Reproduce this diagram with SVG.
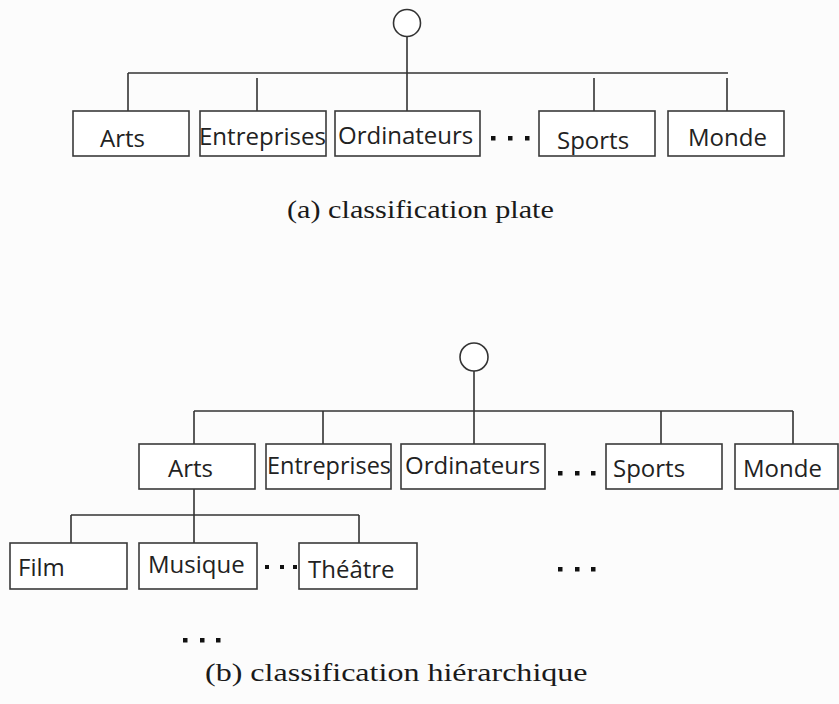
<svg xmlns="http://www.w3.org/2000/svg" width="839" height="704" viewBox="0 0 839 704">
<style>
.box{fill:#ffffff;stroke:#3a3a3a;stroke-width:1.6}
.lbl{font-family:"Open Sans","DejaVu Sans",sans-serif;font-size:24px;fill:#222}
.ln{stroke:#333;stroke-width:1.6;fill:none}
.root{fill:#ffffff;stroke:#333;stroke-width:1.6}
.cap{font-family:"Liberation Serif","Times New Roman",serif;fill:#1a1a1a}
.dot{fill:#111}
</style>
<rect width="839" height="704" fill="#fcfcfc"/>

<g id="connectors">
  <path class="ln" d="M407 37 V111 M128 73 H728 M128 73 V111 M257 78 V111 M594 78 V111 M727 78 V111"/>
  <path class="ln" d="M474 371 V444 M194 411 H793 M194 411 V444 M323 411 V444 M661 411 V444 M793 411 V444"/>
  <path class="ln" d="M194 489 V543 M71 515 H359 M71 515 V543 M359 515 V543"/>
</g>

<g id="a-root"><circle class="root" cx="407" cy="23" r="13.5"/></g>
<g id="a-arts"><rect class="box" x="73" y="111" width="116" height="45"/><text class="lbl" x="100" y="147">Arts</text></g>
<g id="a-entreprises"><rect class="box" x="200" y="111" width="126" height="45"/><text class="lbl" x="199" y="145" textLength="127" lengthAdjust="spacingAndGlyphs">Entreprises</text></g>
<g id="a-ordinateurs"><rect class="box" x="335" y="111" width="145" height="45"/><text class="lbl" x="338" y="144">Ordinateurs</text></g>
<g id="a-dots"><rect class="dot" x="491" y="136" width="4.5" height="4.5"/><rect class="dot" x="508" y="136" width="4.5" height="4.5"/><rect class="dot" x="525" y="136" width="4.5" height="4.5"/></g>
<g id="a-sports"><rect class="box" x="539" y="111" width="116" height="45"/><text class="lbl" x="557" y="149">Sports</text></g>
<g id="a-monde"><rect class="box" x="668" y="111" width="116" height="45"/><text class="lbl" x="688" y="146">Monde</text></g>
<g id="caption-a"><text class="cap" font-size="25" transform="translate(287,218) scale(1.21,1)">(a) classification plate</text></g>

<g id="b-root"><circle class="root" cx="474" cy="357" r="14"/></g>
<g id="b-arts"><rect class="box" x="139" y="444" width="116" height="45"/><text class="lbl" x="168" y="477">Arts</text></g>
<g id="b-entreprises"><rect class="box" x="266" y="444" width="125" height="45"/><text class="lbl" x="267" y="474" textLength="124" lengthAdjust="spacingAndGlyphs">Entreprises</text></g>
<g id="b-ordinateurs"><rect class="box" x="401" y="444" width="144" height="45"/><text class="lbl" x="405" y="474">Ordinateurs</text></g>
<g id="b-dots"><rect class="dot" x="558" y="471" width="4.5" height="4.5"/><rect class="dot" x="575" y="471" width="4.5" height="4.5"/><rect class="dot" x="591" y="471" width="4.5" height="4.5"/></g>
<g id="b-sports"><rect class="box" x="606" y="444" width="116" height="45"/><text class="lbl" x="613" y="477">Sports</text></g>
<g id="b-monde"><rect class="box" x="735" y="444" width="103" height="45"/><text class="lbl" x="743" y="477">Monde</text></g>
<g id="b-film"><rect class="box" x="10" y="543" width="117" height="46"/><text class="lbl" x="18" y="576">Film</text></g>
<g id="b-musique"><rect class="box" x="139" y="543" width="118" height="46"/><text class="lbl" x="148" y="573">Musique</text></g>
<g id="b-dots2"><rect class="dot" x="265" y="565" width="4" height="4"/><rect class="dot" x="280" y="565" width="4" height="4"/><rect class="dot" x="293" y="565" width="4" height="4"/></g>
<g id="b-theatre"><rect class="box" x="299" y="543" width="118" height="46"/><text class="lbl" x="308" y="578">Théâtre</text></g>
<g id="b-dots3"><rect class="dot" x="558" y="567" width="4.5" height="4.5"/><rect class="dot" x="575" y="567" width="4.5" height="4.5"/><rect class="dot" x="591" y="567" width="4.5" height="4.5"/></g>
<g id="b-dots4"><rect class="dot" x="183" y="638" width="4.5" height="4.5"/><rect class="dot" x="200" y="638" width="4.5" height="4.5"/><rect class="dot" x="216" y="638" width="4.5" height="4.5"/></g>
<g id="caption-b"><text class="cap" font-size="26" transform="translate(205,681) scale(1.233,1)">(b) classification hiérarchique</text></g>
</svg>
